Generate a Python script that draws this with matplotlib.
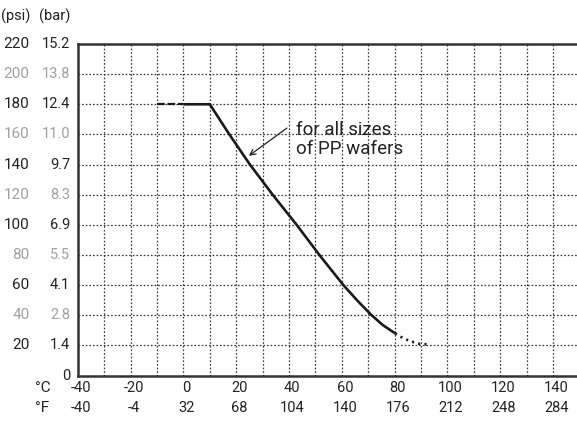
import matplotlib
matplotlib.use('Agg')
import matplotlib.pyplot as plt
from matplotlib.transforms import blended_transform_factory

# data
temp_c = [0, 10, 17.4, 25.2, 33.8, 42.9, 51.5, 60.6, 66.0, 71.0, 75.5, 80.2]   # solid part
pres_psi = [180, 180, 160, 140, 120, 100, 80, 60, 49.5, 40.5, 33.5, 28.0]
flat_c = [-10, 0]            # dashed start
flat_psi = [180, 180]
tail_c = [80.2, 83, 86, 89.5, 93]   # dotted end
tail_psi = [28.0, 25.0, 22.7, 21.0, 20.6]

psi_ticks = [220, 200, 180, 160, 140, 120, 100, 80, 60, 40, 20]
bar_labels = ['15.2', '13.8', '12.4', '11.0', '9.7', '8.3', '6.9', '5.5', '4.1', '2.8', '1.4']
c_ticks = [-40, -20, 0, 20, 40, 60, 80, 100, 120, 140]
f_labels = ['-40', '-4', '32', '68', '104', '140', '176', '212', '248', '284']

plt.rcParams['font.family'] = ['Roboto', 'DejaVu Sans']
W, H = 577, 425
fig = plt.figure(figsize=(W / 100, H / 100), dpi=100)

# axes placed in pixel terms (left spine 77.8, bottom 375.5, top 44)
left, bottom, top = 77.8, 375.5, 44.0
ax = fig.add_axes([left / W, (H - bottom) / H, (W - left) / W, (bottom - top) / H])
ax.set_xlim(-40, -40 + (W - left) / 2.64)
ax.set_ylim(0, 220)

# grid
for t in range(-30, 160, 10):
    ax.axvline(t, color='#333333', lw=0.9, ls=(0, (1.3, 1.6)), zorder=1)
for p in range(20, 220, 20):
    ax.axhline(p, color='#333333', lw=0.9, ls=(0, (1.3, 1.6)), zorder=1)

# curve
ax.plot(flat_c, flat_psi, color='#1a1a1a', lw=1.6, ls=(0, (3.5, 1.2)), zorder=3)
ax.plot(temp_c, pres_psi, color='#1a1a1a', lw=1.9, solid_capstyle='butt',
        solid_joinstyle='round', zorder=3)
ax.plot(tail_c, tail_psi, color='#1a1a1a', lw=1.9, ls=(0, (0.8, 1.6)), zorder=3)

# annotation
ax.text(42.6, 156.5, 'for all sizes\nof PP wafers', fontsize=13.5, color='#222222',
        va='center', ha='left', linespacing=1.1)
ax.annotate('', xy=(24.8, 145.8), xytext=(39.2, 164.2),
            arrowprops=dict(arrowstyle='->', color='#222222', lw=0.9,
                            shrinkA=0, shrinkB=0))

# spines
for s in ['left', 'bottom', 'top']:
    ax.spines[s].set_linewidth(1.8)
    ax.spines[s].set_color('#333333')
ax.spines['right'].set_visible(False)
ax.set_xticks([])
ax.set_yticks([])

# y labels: psi and bar columns, alternating black / grey
ty = blended_transform_factory(fig.transFigure, ax.transData)
for i in range(len(psi_ticks)):
    col = '#222222' if i % 2 == 0 else '#a0a0a0'
    fig.text(29.5 / W, psi_ticks[i], str(psi_ticks[i]), transform=ty, ha='right', va='center',
             fontsize=11, color=col)
    fig.text(70 / W, psi_ticks[i], bar_labels[i], transform=ty, ha='right', va='center',
             fontsize=10.5, color=col)
fig.text(70 / W, 0, '0', transform=ty, ha='right', va='center', fontsize=10.5, color='#222222')
fig.text(1.5 / W, 1 - 16 / H, '(psi)', ha='left', va='center', fontsize=10.5, color='#222222')
fig.text(70 / W, 1 - 16 / H, '(bar)', ha='right', va='center', fontsize=10.5, color='#222222')

# x labels: Celsius and Fahrenheit rows
tx = blended_transform_factory(ax.transData, fig.transFigure)
for i in range(len(c_ticks)):
    fig.text(c_ticks[i] + 1.2, 1 - 388 / H, str(c_ticks[i]), transform=tx, ha='center', va='center',
             fontsize=10.5, color='#222222')
    fig.text(c_ticks[i] + 1.2, 1 - 408 / H, f_labels[i], transform=tx, ha='center', va='center',
             fontsize=10.5, color='#222222')
fig.text(35 / W, 1 - 388 / H, '°C', ha='left', va='center', fontsize=11, color='#222222')
fig.text(35 / W, 1 - 408 / H, '°F', ha='left', va='center', fontsize=11, color='#222222')

plt.savefig('out.png', dpi=100)
